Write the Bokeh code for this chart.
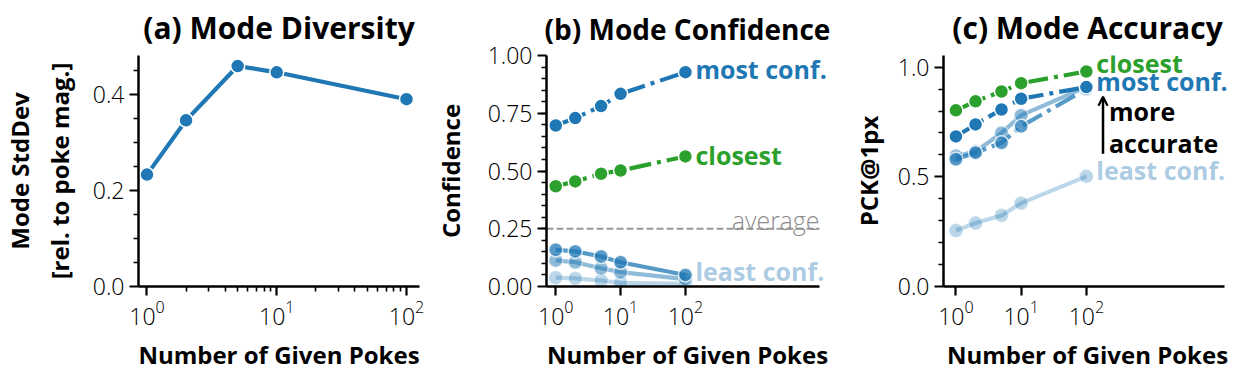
import numpy as np
from bokeh.plotting import figure
from bokeh.layouts import row
from bokeh.models import Range1d, FixedTicker, Arrow, OpenHead, PrintfTickFormatter
from bokeh.core.properties import value
from bokeh.embed import file_html
from bokeh.resources import INLINE

# ---------------- data ----------------
pokes = [1, 2, 5, 10, 100]
diversity = [0.233, 0.346, 0.459, 0.446, 0.390]

conf_most = [0.697, 0.729, 0.781, 0.834, 0.928]
conf_mode2 = [0.159, 0.152, 0.130, 0.105, 0.050]
conf_mode3 = [0.113, 0.105, 0.079, 0.062, 0.032]
conf_least = [0.038, 0.035, 0.026, 0.016, 0.012]
conf_closest = [0.434, 0.455, 0.488, 0.502, 0.563]
conf_average = 0.25

pck_most = [0.684, 0.739, 0.807, 0.856, 0.909]
pck_mode2 = [0.580, 0.610, 0.655, 0.730, 0.900]
pck_mode3 = [0.595, 0.615, 0.700, 0.780, 0.910]
pck_least = [0.255, 0.289, 0.324, 0.380, 0.502]
pck_closest = [0.803, 0.844, 0.889, 0.927, 0.980]

titles = ["(a) Mode Diversity", "(b) Mode Confidence", "(c) Mode Accuracy"]
xlabel = "Number of Given Pokes"
ylabels = ["Mode StdDev\n[rel. to poke mag.]", "Confidence", "PCK@1px"]

# ---------------- style ----------------
FONT = "Open Sans"
FONT_LIGHT = "Open Sans Light, Open Sans"
BLUE = "#1f77b4"
GREEN = "#2ca02c"
GRAY = "#999999"
mode_alphas = [1.0, 0.75, 0.5, 0.3]
DASHDOT = "22 6 4 6"
LABEL_SIZE = "25px"


def make_fig(title, width, xr, yr, bl, br, xbounds=None, title_size="30px"):
    p = figure(width=width, height=375, x_axis_type="log",
               x_range=Range1d(*xr), y_range=Range1d(*yr),
               output_backend="svg", toolbar_location=None,
               min_border_left=bl, min_border_right=br,
               min_border_top=55, min_border_bottom=89)
    p.outline_line_color = None
    p.xgrid.visible = False
    p.ygrid.visible = False
    p.background_fill_color = "white"
    p.border_fill_color = "white"
    p.title.text = title
    p.title.text_font = FONT
    p.title.text_font_style = "bold"
    p.title.text_font_size = title_size
    p.title.text_color = "black"
    p.title.align = "center"
    p.title.vertical_align = "top"
    p.title.standoff = 11
    for ax in (p.xaxis[0], p.yaxis[0]):
        ax.axis_line_width = 2.5
        ax.axis_line_color = "black"
        ax.major_tick_line_width = 2.2
        ax.minor_tick_line_width = 1.6
        ax.major_tick_out = 9
        ax.major_tick_in = 0
        ax.minor_tick_out = 5
        ax.minor_tick_in = 0
        ax.major_label_text_font = FONT_LIGHT
        ax.major_label_text_font_size = "23px"
        ax.major_label_text_color = "black"
        ax.axis_label_text_font = FONT
        ax.axis_label_text_font_style = "bold"
        ax.axis_label_text_font_size = "24px"
        ax.axis_label_text_color = "black"
    p.xaxis[0].axis_label = xlabel
    p.xaxis[0].major_label_standoff = 4
    p.xaxis[0].axis_label_standoff = 10
    if xbounds is not None:
        p.xaxis[0].bounds = xbounds
    return p


def series(p, ys, color, alpha=1.0, dash="solid"):
    p.line(pokes, ys, line_color=color, line_width=4.2, line_alpha=alpha, line_dash=dash)
    p.scatter(pokes, ys, size=14, fill_color=color, line_color="white",
              line_width=1.5, alpha=alpha)


def label(p, x, y, text, color, yoff=0, alpha=1.0, style="bold", align="left",
          baseline="middle", xoff=10, font=FONT):
    p.text(x=[x], y=[y], text=[text], x_offset=xoff, y_offset=yoff,
           text_align=align, text_baseline=baseline, text_color=color,
           text_alpha=alpha, text_font=value(font), text_font_style=style,
           text_font_size=LABEL_SIZE)


# ---------------- (a) ----------------
p1 = make_fig(titles[0], 430, (0.86, 126), (0, 0.481), 137, 11)
p1.xaxis[0].ticker = FixedTicker(ticks=[1, 10, 100],
                                 minor_ticks=[2, 3, 4, 5, 6, 7, 8, 9, 20, 30, 40, 50, 60, 70, 80, 90])
p1.yaxis[0].ticker = FixedTicker(ticks=[0.0, 0.2, 0.4],
                                 minor_ticks=[0.05, 0.1, 0.15, 0.25, 0.3, 0.35, 0.45])
p1.yaxis[0].formatter = PrintfTickFormatter(format="%.1f")
p1.yaxis[0].axis_label = ylabels[0]
p1.yaxis[0].axis_label_standoff = 14
series(p1, diversity, BLUE)

# ---------------- (b) ----------------
xb = (0.72, 11700)
p2 = make_fig(titles[1], 400, (0.72, 16100), (0, 1.0), 112, 2, xbounds=xb, title_size="28px")
p2.xaxis[0].ticker = FixedTicker(ticks=[1, 10, 100], minor_ticks=[])
p2.yaxis[0].ticker = FixedTicker(ticks=[0.0, 0.25, 0.5, 0.75, 1.0],
                                 minor_ticks=list(np.round(np.arange(0.05, 1.0, 0.05), 2)))
p2.yaxis[0].formatter = PrintfTickFormatter(format="%.2f")
p2.yaxis[0].axis_label = ylabels[1]
p2.yaxis[0].axis_label_standoff = 18
p2.line([xb[0], xb[1]], [conf_average, conf_average], line_color=GRAY,
        line_width=2, line_dash="7 3")
label(p2, xb[1], conf_average, "average", "#8c8c8c", yoff=-9, style="normal",
      align="right", baseline="alphabetic", xoff=0, font="Open Sans Light")
series(p2, conf_least, BLUE, mode_alphas[3])
series(p2, conf_mode3, BLUE, mode_alphas[2])
series(p2, conf_mode2, BLUE, mode_alphas[1])
series(p2, conf_closest, GREEN, 1.0, DASHDOT)
series(p2, conf_most, BLUE, 1.0, DASHDOT)
label(p2, pokes[-1], conf_most[-1], "most conf.", BLUE, yoff=-3)
label(p2, pokes[-1], conf_closest[-1], "closest", GREEN, yoff=-1)
label(p2, pokes[-1], conf_least[-1], "least conf.", BLUE, yoff=-13, alpha=0.4)

# ---------------- (c) ----------------
xc = (0.645, 12900)
p3 = make_fig(titles[2], 409, (0.645, 16800), (0, 1.053), 113, 8, xbounds=xc)
p3.xaxis[0].ticker = FixedTicker(ticks=[1, 10, 100], minor_ticks=[])
p3.yaxis[0].ticker = FixedTicker(ticks=[0.0, 0.5, 1.0],
                                 minor_ticks=[0.1, 0.2, 0.3, 0.4, 0.6, 0.7, 0.8, 0.9])
p3.yaxis[0].formatter = PrintfTickFormatter(format="%.1f")
p3.yaxis[0].axis_label = ylabels[2]
p3.yaxis[0].axis_label_standoff = 10
series(p3, pck_least, BLUE, mode_alphas[3])
series(p3, pck_mode3, BLUE, mode_alphas[2])
series(p3, pck_mode2, BLUE, mode_alphas[1], DASHDOT)
series(p3, pck_most, BLUE, 1.0, DASHDOT)
series(p3, pck_closest, GREEN, 1.0, DASHDOT)
label(p3, pokes[-1], pck_closest[-1], "closest", GREEN, yoff=-9)
label(p3, pokes[-1], pck_most[-1], "most conf.", BLUE, yoff=-6)
label(p3, pokes[-1], pck_least[-1], "least conf.", BLUE, yoff=-6, alpha=0.4)

arrow_x = pokes[-1] * 1.8
arrow_y0, arrow_y1 = 0.605, 0.865
more_y, accurate_y = 0.80, 0.652
p3.add_layout(Arrow(end=OpenHead(size=9, line_width=2.2, line_color="black"),
                    x_start=arrow_x, y_start=arrow_y0, x_end=arrow_x, y_end=arrow_y1,
                    line_width=2.5, line_color="black"))
label(p3, arrow_x, more_y, "more", "black", xoff=6)
label(p3, arrow_x, accurate_y, "accurate", "black", xoff=6)

layout = row(p1, p2, p3, spacing=0)
open("out.html", "w").write(file_html(layout, INLINE))
